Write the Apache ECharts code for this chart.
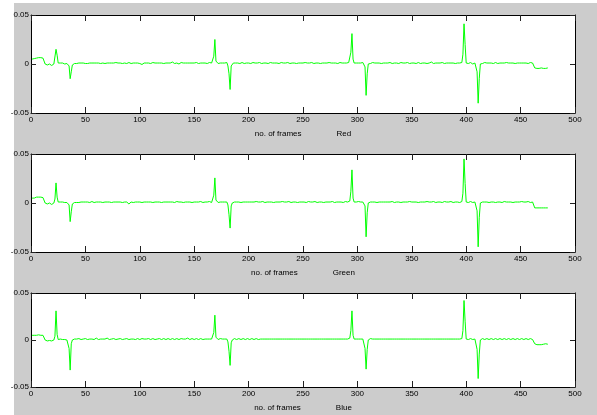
<!DOCTYPE html>
<html><head><meta charset="utf-8">
<script src="https://cdn.jsdelivr.net/npm/echarts@6/dist/echarts.min.js"></script>
<style>
html,body{margin:0;padding:0;background:#fff;}
#bg{position:absolute;left:14px;top:3px;width:583px;height:412px;background:#cccccc;}
#chart{position:absolute;left:0;top:0;width:597px;height:415px;}
</style></head><body>
<div id="bg"></div><div id="chart"></div>
<script>
// Frame-by-frame difference values (frames 1..475)
const red = [
.005,.005,.0055,.005,.006,.006,.0065,.006,.0065,.006,.006,.0065,0,-.0005,-.001,-.0005,0,-.001,-.0015,-.0005,0,.002,.015,.009,.001,
.0005,.001,.0005,.001,.0005,0,.0005,.0005,-.0005,-.002,-.015,-.008,-.001,0,.0005,.001,.0005,.001,.001,.0005,.001,.0005,.001,.001,.0005,
.001,.0005,.001,.001,.0015,.001,.0005,.001,.0005,.001,.0015,.001,.001,.0005,.001,.001,.0015,.0005,.001,.001,.0005,.001,.0015,.001,.0005,
.001,.001,.0015,.0025,.001,.0005,.001,.001,.0005,.0015,.001,.001,.0005,.001,.0015,.001,.0005,.001,.001,.0015,.001,.0005,.001,.001,.0005,
.001,-.0005,.0005,.001,.0015,.001,.0005,.001,.001,.0005,.001,.0015,.001,.001,.0005,.001,.0005,.001,.0015,.001,.001,.0005,.001,.001,.0015,
.001,.0005,.001,.0015,.002,.001,.0005,.001,.001,.0005,0,.001,.0015,.001,.001,.0005,.001,.0015,.001,.0005,.001,.002,.001,.0005,.001,
.001,.0015,.001,.0005,.001,.001,.0015,.001,.0005,.001,.001,.0005,.001,.0015,.001,.001,.0015,.008,.025,.003,.001,.0005,.001,.001,.0005,
.001,.0015,.001,.002,.0015,-.002,-.01,-.026,-.002,0,.001,.0005,.001,.0015,.001,.001,.0005,.001,.0015,.001,.0005,.001,.001,.0015,.001,
.001,.0005,.001,.0015,.001,.001,.0005,.001,.001,.0015,.001,.0005,.001,.001,.0015,.001,.001,.0005,.001,.0015,.001,.001,.0005,.001,.0015,
.001,.001,.0005,.001,.0015,.001,.001,.0005,.001,.001,.0015,.001,.0005,.001,.001,.0015,.001,.001,.0005,.001,.001,.0015,.001,.0005,.001,
.001,.0015,.001,.001,.0005,.001,.001,.0015,.001,.0005,.001,.001,.0015,.001,.001,.0005,.001,.001,.0015,.001,.0005,.001,.001,.0015,.001,
.001,.0005,.001,.0015,.001,.001,.0005,.001,.0015,.001,.001,.0005,.001,.0015,.001,.001,.0015,.002,.012,.031,.005,.001,.0005,.001,.001,
.001,.0005,.001,.001,.0015,.001,-.003,-.032,-.01,0,.001,.0005,.001,.0015,.001,.001,.0005,.001,.0015,.001,.001,.0005,.001,.001,.0015,
.001,.0005,.001,.001,.0015,.001,.0005,.001,.001,.0015,.001,.001,.0005,.001,.0015,.001,.001,.0005,.001,.001,.0015,.001,.0005,.001,.001,
.0015,.001,.001,.0005,.001,.0015,.001,.0005,.001,.001,.0015,.001,.001,.0005,.001,.001,.0015,.002,.001,.0005,.001,.001,.0015,.001,.0005,
.001,.001,.0015,.001,.0005,.001,.001,.0015,.001,.0005,.001,.0015,.001,.001,.0005,.001,.001,.0015,.001,.0015,.0015,.01,.041,.02,.001,
.001,.0005,.001,.0015,.001,0,.002,.001,-.001,-.008,-.04,-.015,0,.001,.0005,.001,.0015,.001,.001,.0005,.001,.0015,.001,.001,.0005,
.001,.0015,.001,.0005,.001,.001,.0015,.001,.0005,.001,.001,.0015,.001,.001,.0005,.001,.0015,.001,.001,.0005,.001,.001,.0015,.001,.001,
.001,.0005,.001,.0015,.001,.001,.0005,.001,.0015,.001,.001,.0005,-.004,-.0045,-.0045,-.004,-.0045,-.0045,-.004,-.0045,-.0045,-.004,-.0045,-.0045,-.004
];
const green = [
.005,.005,.005,.0055,.006,.006,.006,.0055,.006,.006,.0055,.006,0,-.0005,-.001,-.0005,0,-.001,-.0015,-.001,0,.004,.0205,.006,.001,
.0005,.001,.0005,.001,.0005,.0005,0,.0005,-.0005,-.002,-.019,-.009,-.001,0,.0005,.001,.0005,.001,.0005,.001,.001,.0005,.001,.0015,.001,
.0005,.001,.001,.0005,.001,.0015,.001,.0005,.001,.001,.0005,.001,.0015,.001,.001,.0005,.001,.001,.0015,.001,.0005,.001,.001,.0005,.001,
.001,.0015,.001,.0025,.001,.0005,.001,.001,.0005,.001,.001,.0005,.001,.0005,-.001,.0005,.001,.001,.0005,.001,.001,.0015,.001,.0005,.001,
.001,.0005,.001,.001,.0005,.001,.0015,.001,.0005,.001,.001,.0005,.001,.001,.0015,.001,.0005,.001,.001,.0005,.001,.001,.0015,.001,.0005,
.001,.0015,.001,.0005,.001,.001,.0005,.001,.0015,.001,.001,.0005,.001,0,.0005,.001,.001,.0015,.001,.0005,.001,.001,.0005,.001,.001,
.0015,.001,.0005,.001,.001,.0015,.001,.0005,.001,.001,.0005,.001,.001,.0015,.001,.0005,.0015,.008,.0256,.003,.001,.0005,.001,.001,.0015,
.001,.0005,.001,.0015,.001,-.002,-.012,-.0256,-.003,0,.001,.001,.0005,.001,.0015,.001,.001,.0005,.001,.001,.0015,.001,.0005,.001,.001,
.001,.0015,.001,.0005,.001,.001,.0015,.001,.001,.0005,.001,.001,.0015,.001,.0005,.001,.001,.0005,.001,.0015,.001,.001,.0005,.001,.001,
.0015,.001,.0005,.001,.001,.0015,.001,.001,.0005,.001,.001,.0015,.001,.0005,.001,.001,.0015,.001,.001,.0005,.001,.001,.0005,.001,.0015,
.001,.001,.0005,.001,.0015,.001,.001,.0005,.001,.001,.0015,.001,.0005,.001,.001,.0015,.001,.001,.0005,.001,.001,.0015,.001,.0005,.001,
.001,.0015,.001,.0005,.001,.001,.0015,.001,.0005,.001,.001,.0005,.001,.0015,.001,.001,.0015,.002,.012,.0338,.005,.001,.0005,.001,.001,
.0015,.001,.001,.0005,.001,.001,-.003,-.0345,-.01,0,.001,.001,.0005,.001,.0015,.001,.001,.0005,.001,.001,.0015,.001,.0005,.001,.001,
.001,.0015,.001,.0005,.001,.001,.0015,.001,.0005,.001,.001,.0015,.001,.001,.0005,.001,.001,.0015,.001,.0005,.001,.001,.0015,.001,.001,
.0005,.001,.0015,.001,.001,.0005,.001,.001,.0015,.001,.0005,.001,.001,.0015,.001,.001,.0005,.001,.001,.0015,.001,.0005,.001,.001,.0015,
.001,.001,.0005,.001,.0015,.001,.001,.0005,.001,.001,.0015,.001,.0005,.001,.001,.0015,.001,.001,.0005,.0015,.0015,.01,.045,.02,.001,
.001,.0005,.001,.0015,.001,.0005,.0015,.001,-.001,-.008,-.0447,-.015,0,.001,.001,.0005,.001,.0015,.001,.001,.0005,.001,.001,.0015,.001,
.001,.0005,.001,.001,.0015,.001,.001,.0005,.001,.0015,.001,.001,.0005,.001,.0015,.001,.001,.0005,.001,.001,.0015,.001,.0005,.001,.001,
.0015,.001,.001,.0005,.001,.001,.0015,.001,.0005,.001,.001,.001,-.005,-.005,-.005,-.005,-.005,-.005,-.005,-.005,-.005,-.005,-.005,-.005,-.005
];
const blue = [
.005,.005,.005,.0055,.005,.005,.0055,.006,.005,.0055,.005,.005,0,-.0005,-.001,-.001,-.0005,-.001,-.001,-.0005,0,.004,.031,.006,.0005,
.0005,.001,.0005,.0005,.001,.0005,0,0,-.001,-.009,-.032,-.004,0,.0005,.001,.0005,.001,.0005,.0015,.001,.0005,.001,.001,.0005,.0015,
.001,.0005,.0015,.001,.0005,.001,.0015,.0005,.001,.002,.001,.0005,.0015,.001,.0005,.001,.0015,.001,.0005,.002,.001,.0005,.0015,.001,.0005,
.0015,.001,.0005,.002,.001,.0005,.0015,.001,.0005,.002,.001,.0005,.0015,0,.0005,.0015,.001,.0005,.001,.0015,.0005,.001,.0015,.001,.0005,
.001,.0015,.0005,.001,.0015,.001,.0005,.0015,.001,.0005,.001,.0015,.001,.0005,.002,.001,.0005,.0015,.001,.0005,.001,.0015,.001,.0005,.001,
.0015,.001,.0005,.001,.0015,.001,.0005,.001,.0015,.001,.0005,.001,.0015,.0005,.001,.0015,.001,.0005,.002,.001,.0005,.001,.0015,.001,.0005,
.001,.0015,.001,.0005,.001,.0015,.001,.0005,.001,.001,.0015,.001,.0005,.001,.0015,.001,.0015,.008,.0264,.003,.001,.0005,.001,.0015,.001,
.001,.0005,.001,.0015,.001,-.002,-.012,-.027,-.003,0,.001,.0015,.001,.0005,.001,.0015,.001,.0005,.001,.0015,.001,.0005,.001,.0015,.001,
.0005,.001,.0015,.001,.0005,.001,.0015,.001,.0005,.002,.001,.0005,.001,.0015,.001,.0005,.001,.0015,.001,.0005,.001,.0015,.001,.0005,.001,
.0015,.001,.0005,.001,.0015,.001,.0005,.001,.002,.001,.0005,.001,.0015,.001,.0005,.001,.0015,.001,.0005,.001,.0015,.001,.0005,.001,.0015,
.001,.0005,.001,.0015,.001,.0005,.001,.0015,.001,.0005,.001,.002,.001,.0005,.001,.0015,.001,.0005,.001,.0015,.001,.0005,.001,.0015,.001,
.0005,.001,.0015,.001,.0005,.001,.0015,.001,.0005,.001,.0015,.001,.0005,.001,.0015,.001,.0015,.002,.01,.031,.005,.001,.0005,.001,.0015,
.001,.0005,.001,.0015,.001,.0005,-.009,-.031,-.01,0,.001,.0015,.0005,.001,.0015,.001,.0005,.001,.0015,.001,.0005,.001,.0015,.001,.0005,
.001,.0015,.001,.0005,.001,.0015,.001,.0005,.001,.0015,.001,.0005,.001,.0015,.001,.0005,.001,.0015,.001,.0005,.001,.0015,.001,.0005,.001,
.0015,.001,.0005,.001,.0015,.001,.0005,.001,.0015,.001,.0005,.001,.0015,.001,.0005,.001,.0015,.001,.0005,.001,.0015,.001,.0005,.001,.0015,
.001,.0005,.001,.0015,.001,.0005,.001,.0015,.001,.0005,.001,.0015,.001,.0005,.001,.0015,.001,.0005,.001,.0015,.0015,.01,.042,.02,.001,
.001,.0005,.001,.0015,.001,.0005,.0015,.001,-.001,-.01,-.041,-.015,0,.001,.0015,.001,.0005,.001,.0015,.001,.0005,.001,.0015,.001,.0005,
.001,.0015,.001,.0005,.001,.0015,.001,.0005,.001,.0015,.001,.0005,.001,.0015,.001,.0005,.001,.0015,.001,.0005,.001,.0015,.001,.0005,.001,
.0015,.001,.0005,.001,.0015,.001,.0005,.001,.0015,.001,.0005,.001,-.004,-.0045,-.005,-.0045,-.005,-.0045,-.005,-.005,-.0045,-.005,-.004,-.0045,-.0045
];
const channelNames = ['Red', 'Green', 'Blue'];
const xAxisTitle = 'no. of frames';
const seriesList = [red, green, blue];

const FONT = "'Liberation Sans', Arial, sans-serif";
const layout = [{top: 15, height: 98}, {top: 154, height: 98}, {top: 293, height: 96}];
const chart = echarts.init(document.getElementById('chart'), null, {renderer: 'canvas'});

const grids = [], xAxes = [], yAxes = [], series = [];
layout.forEach((l, i) => {
  grids.push({left: 31, right: 22, top: l.top, height: l.height, show: true,
    backgroundColor: '#ffffff', borderWidth: 0});
  const common = {gridIndex: i, type: 'value', min: 0, max: 500, interval: 50,
    splitLine: {show: false},
    axisLine: {show: true, onZero: false, lineStyle: {color: '#000', width: 1}},
    axisTick: {show: true, inside: true, length: 6, lineStyle: {color: '#222', width: 1}}};
  xAxes.push(Object.assign({}, common, {position: 'bottom',
    axisLabel: {show: true, margin: 3, fontSize: 8, color: '#000', fontFamily: FONT, showMinLabel: true, showMaxLabel: true},
    name: '{a|' + xAxisTitle + '}{g|}{a|' + channelNames[i] + '}',
    nameLocation: 'middle', nameGap: 15,
    nameTextStyle: {rich: {a: {fontSize: 8, color: '#000', fontFamily: FONT}, g: {width: 35}}}
  }));
  xAxes.push(Object.assign({}, common, {position: 'top', axisLabel: {show: false}}));
  const ycommon = {gridIndex: i, type: 'value', min: -0.05, max: 0.05, interval: 0.05,
    splitLine: {show: false},
    axisLine: {show: true, onZero: false, lineStyle: {color: '#000', width: 1}},
    axisTick: {show: true, inside: true, length: 5, lineStyle: {color: '#222', width: 1}}};
  yAxes.push(Object.assign({}, ycommon, {position: 'left',
    axisLabel: {show: true, margin: 2, fontSize: 8, color: '#000', fontFamily: FONT, showMinLabel: true, showMaxLabel: true}}));
  yAxes.push(Object.assign({}, ycommon, {position: 'right', axisLabel: {show: false}}));
  series.push({type: 'line', name: channelNames[i], xAxisIndex: 2 * i, yAxisIndex: 2 * i,
    data: seriesList[i].map((v, k) => [k + 1, v]),
    showSymbol: false, symbol: 'none', animation: false,
    lineStyle: {color: '#00ff00', width: 1}});
});

chart.setOption({
  backgroundColor: 'transparent',
  animation: false,
  grid: grids, xAxis: xAxes, yAxis: yAxes, series: series
});
</script>
</body></html>
